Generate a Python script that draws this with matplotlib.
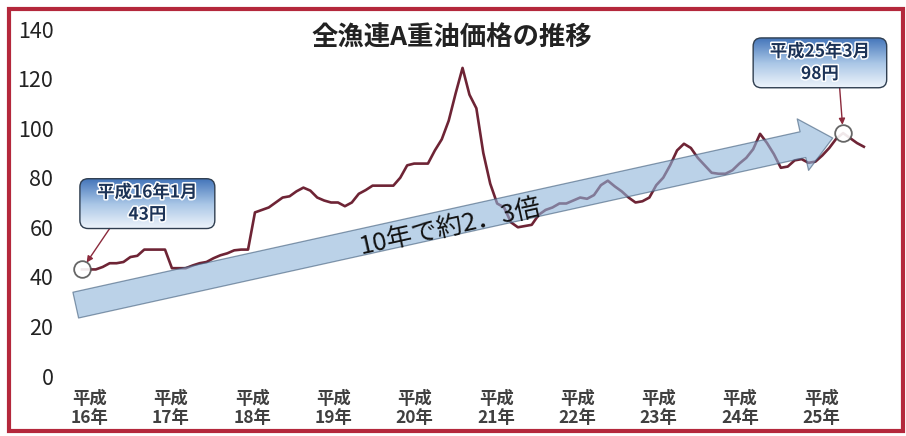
import numpy as np
import matplotlib.pyplot as plt
from matplotlib.patches import FancyBboxPatch, Rectangle
import matplotlib.patheffects as pe

plt.rcParams['font.family'] = ['Noto Sans CJK JP', 'DejaVu Sans']

# 全漁連A重油価格 (円/L), 平成16年1月から月次
price = [43, 43, 43, 44, 45.5, 45.5, 46, 48, 48.5, 51, 51, 51,
         51, 43.5, 43.5, 43.5, 44.6, 45.5, 46, 47.5, 48.7, 49.5, 50.7, 51,
         51, 66, 67, 68, 70, 72, 72.5, 74.5, 76, 74.8, 72, 70.8,
         70, 70, 68.5, 70, 73.5, 75, 76.8, 76.8, 76.8, 76.8, 80, 85,
         85.7, 85.7, 85.7, 91, 95.5, 103, 114, 124.3, 113.5, 108, 90, 77.6,
         69.6, 68, 62, 60, 60.5, 61, 65, 67, 68, 69.6, 69.6, 70.8,
         72, 71.5, 73, 77, 78.8, 76.5, 74.5, 72, 70, 70.5, 72, 77,
         80, 85, 91, 93.7, 92, 88, 85, 82, 81.6, 81.6, 83, 85.7,
         88, 91.5, 97.7, 94, 89.5, 84, 84.5, 87, 87.5, 86, 86.5, 89,
         92, 95.7, 98, 96, 94, 92.5]
months = np.arange(len(price))
year_labels = ['平成\n16年', '平成\n17年', '平成\n18年', '平成\n19年', '平成\n20年',
               '平成\n21年', '平成\n22年', '平成\n23年', '平成\n24年', '平成\n25年']
yticks = [0, 20, 40, 60, 80, 100, 120, 140]
first_idx, last_idx = 0, 110
title = '全漁連A重油価格の推移'
trend_text = '10年で約2．3倍'

fig = plt.figure(figsize=(9.06, 4.36), dpi=100)
ax = fig.add_axes([70 / 906, 60 / 436, 825 / 906, 347 / 436])

ax.plot(months, price, color='#6e2435', lw=1.9, zorder=2)

# trend arrow
ax.annotate('', xy=(108.5, 96), xytext=(-0.9, 28.6),
            arrowprops=dict(arrowstyle='simple,head_length=2.2,head_width=3.8,tail_width=1.9',
                            mutation_scale=10, fc='#8fb4da', ec='#3d5a78', lw=0.9,
                            alpha=0.6, shrinkA=0, shrinkB=0), zorder=3)
ax.text(53.3, 60.0, trend_text, fontsize=18.5, rotation=12.5, rotation_mode='anchor',
        ha='center', va='center', color='#111111', zorder=4)

# circles on the first and last values
for i in (first_idx, last_idx):
    ax.plot(months[i], price[i], 'o', ms=12, mfc='white', mec='#555555', mew=1.3,
            alpha=0.9, zorder=5)


def callout(x0, y0, w, h, label, idx, tail):
    box = FancyBboxPatch((x0, y0), w, h, boxstyle='round,pad=0,rounding_size=1.2',
                         mutation_aspect=2.78, fc='none', ec='#2f3e50', lw=1.0, zorder=7)
    ax.add_patch(box)
    grad = np.linspace(0, 1, 64).reshape(-1, 1)
    img = ax.imshow(grad, extent=(x0, x0 + w, y0, y0 + h), origin='upper', aspect='auto',
                    cmap=plt.matplotlib.colors.LinearSegmentedColormap.from_list(
                        'g', ['#4677bb', '#a9c6e6', '#eef4fb']), zorder=6)
    img.set_clip_path(box)
    ax.text(x0 + w / 2, y0 + h / 2, label, fontsize=12.5, fontweight='bold',
            ha='center', va='center', color='#1c3357', linespacing=1.3, zorder=8,
            path_effects=[pe.withStroke(linewidth=2.2, foreground='white')])
    ax.annotate('', xy=(months[idx], price[idx]), xytext=tail,
                arrowprops=dict(arrowstyle='-|>', color='#8b2a3c', lw=1.0,
                                shrinkA=0, shrinkB=6, mutation_scale=9), zorder=6)


callout(-0.3, 59.5, 19.5, 20.1, '平成16年1月\n43円', first_idx, (4.0, 59.5))
callout(97.0, 116.3, 19.3, 20.1, '平成25年3月\n98円', last_idx, (109.5, 116.3))

ax.set_xlim(-1.73, 117.5)
ax.set_ylim(0, 140)
ax.set_yticks(yticks)
ax.set_yticklabels([str(v) for v in yticks], fontsize=15.5, color='#222222')
ax.set_xticks(np.arange(len(year_labels)) * 11.75 + 1.1)
ax.set_xticklabels(year_labels, fontsize=12.5, fontweight='bold', color='#404040',
                   linespacing=1.1)
ax.tick_params(length=0)
ax.tick_params(axis='y', pad=12)
ax.tick_params(axis='x', pad=10)
for s in ax.spines.values():
    s.set_visible(False)

fig.text(452 / 906, 398 / 436, title, fontsize=19, fontweight='bold',
         ha='center', va='center', color='#222222')

fig.patches.append(Rectangle((9 / 906, 5 / 436), 894 / 906, 422 / 436,
                             transform=fig.transFigure, fill=False,
                             ec='#b4283c', lw=3))

fig.savefig('out.png', dpi=100)
